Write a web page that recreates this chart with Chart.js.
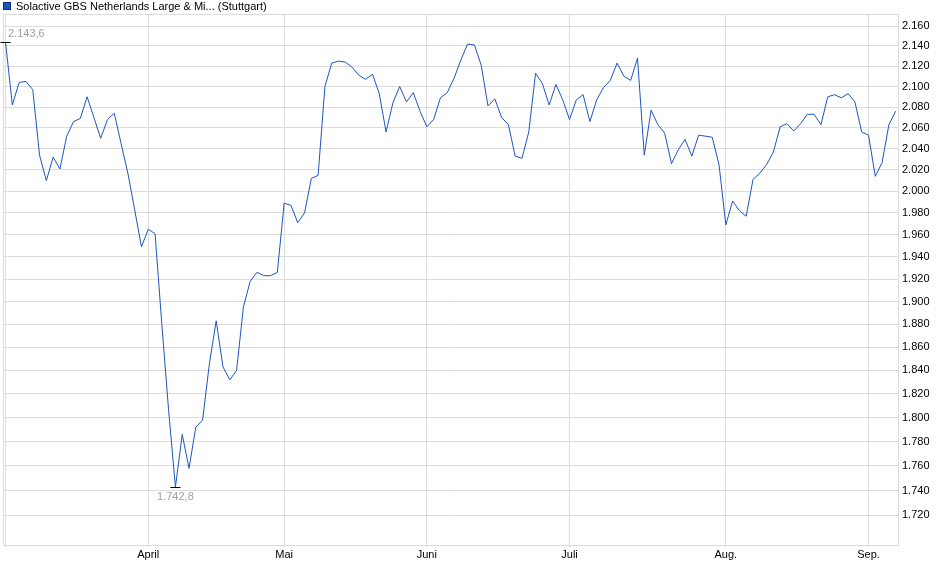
<!DOCTYPE html>
<html>
<head>
<meta charset="utf-8">
<script src="https://cdn.jsdelivr.net/npm/chart.js@4.4.1/dist/chart.umd.min.js"></script>
<style>
  body { margin: 0; background: #fff; font-family: "Liberation Sans", Arial, sans-serif; }
  #wrap { position: relative; width: 940px; height: 579px; }
  #legende { position: absolute; left: 3px; top: 0px; font-size: 11px; color: #000; line-height: 13px; white-space: nowrap; }
  #legende span.box { display: inline-block; width: 6px; height: 6px; background: #1c55c0; border: 1px solid #0d2f75; margin-right: 5px; vertical-align: -0px; }
</style>
</head>
<body>
<div id="wrap">
  <canvas id="grafico"></canvas>
  <div id="legende"><span class="box"></span>Solactive GBS Netherlands Large &amp; Mi... (Stuttgart)</div>
</div>
<script>
// Monatsbeschriftungen (Handelstag-Index des Monatsersten)
const monatsLabels = ['', 'April', 'Mai', 'Juni', 'Juli', 'Aug.', 'Sep.'];
const monatsIndex = [0, 21, 41, 62, 83, 106, 127];

// Y-Achse (logarithmisch), Ticks alle 20 Punkte
const yTicks = [1720, 1740, 1760, 1780, 1800, 1820, 1840, 1860, 1880, 1900, 1920, 1940,
                1960, 1980, 2000, 2020, 2040, 2060, 2080, 2100, 2120, 2140, 2160];

// Schlusskurse je Handelstag
const kurse = [
  2143.6, 2082, 2104, 2105, 2097, 2034, 2010, 2032, 2021, 2052,
  2066, 2069, 2090, 2070, 2050, 2068, 2074, 2045, 2017, 1983,
  1949, 1965, 1961, 1880, 1806, 1742.8, 1786, 1758, 1792, 1798,
  1846, 1883, 1843, 1832, 1840, 1895, 1918, 1926, 1923, 1923,
  1926, 1989, 1987, 1971, 1980, 2012, 2015, 2100, 2123, 2125,
  2124, 2119, 2111, 2107, 2112, 2093, 2056, 2084, 2100, 2085,
  2094, 2076, 2061, 2068, 2089, 2094, 2108, 2126, 2142, 2141,
  2121, 2081, 2088, 2070, 2063, 2033, 2031, 2056, 2113, 2103,
  2082, 2102, 2087, 2068, 2087, 2092, 2066, 2087, 2099, 2106,
  2123, 2110, 2106, 2128, 2034, 2077, 2063, 2055, 2026, 2039,
  2049, 2033, 2053, 2052, 2051, 2025, 1969, 1991, 1982, 1977,
  2011, 2017, 2025, 2037, 2061, 2064, 2057, 2064, 2073, 2073,
  2063, 2090, 2092, 2089, 2093, 2085, 2056, 2053, 2014, 2027,
  2063, 2076
];

function tausender(v) {
  const ganz = Math.floor(v);
  return Math.floor(ganz / 1000) + '.' + String(ganz % 1000).padStart(3, '0');
}
function formatKurs(v) {
  const zehntel = Math.round(v * 10) % 10;
  return tausender(v) + ',' + zehntel;
}

// Rahmen oben/links + Hoch/Tief Markierung
const extremPlugin = {
  id: 'extrem',
  beforeDatasetsDraw(chart) {
    const { ctx, chartArea: a } = chart;
    ctx.save();
    ctx.strokeStyle = '#dcdcdc';
    ctx.lineWidth = 1;
    ctx.beginPath();
    ctx.moveTo(a.left + 0.5, a.bottom);
    ctx.lineTo(a.left + 0.5, a.top + 0.5);
    ctx.lineTo(a.right, a.top + 0.5);
    ctx.stroke();
    ctx.restore();
  },
  afterDatasetsDraw(chart) {
    const { ctx, chartArea: a } = chart;
    const xs = chart.scales.x, ys = chart.scales.y;
    const maxV = Math.max(...kurse), minV = Math.min(...kurse);
    const punkte = [
      { i: kurse.indexOf(maxV), v: maxV, oben: true },
      { i: kurse.indexOf(minV), v: minV, oben: false }
    ];
    ctx.save();
    ctx.font = '11px "Liberation Sans", Arial, sans-serif';
    punkte.forEach(p => {
      const px = xs.getPixelForValue(p.i);
      const py = Math.round(ys.getPixelForValue(p.v)) + 0.5;
      ctx.strokeStyle = '#000';
      ctx.lineWidth = 1;
      ctx.beginPath();
      ctx.moveTo(px - 5, py);
      ctx.lineTo(px + 5, py);
      ctx.stroke();
      const txt = formatKurs(p.v);
      const w = ctx.measureText(txt).width;
      let tx = px - w / 2;
      if (tx < a.left + 5) tx = a.left + 5;
      ctx.fillStyle = '#a0a0a0';
      ctx.textBaseline = 'middle';
      ctx.textAlign = 'left';
      ctx.fillText(txt, tx, p.oben ? py - 9 : py + 9);
    });
    ctx.restore();
  }
};

const ctx = document.getElementById('grafico').getContext('2d');
const grafico = new Chart(ctx, {
  type: 'line',
  data: {
    datasets: [{
      label: 'Solactive GBS Netherlands Large & Mi... (Stuttgart)',
      data: kurse.map((v, i) => ({ x: i, y: v })),
      borderColor: '#1c55c0',
      borderWidth: 1,
      pointRadius: 0,
      tension: 0,
      fill: false
    }]
  },
  options: {
    responsive: true,
    maintainAspectRatio: false,
    animation: false,
    layout: { padding: { top: 14, left: 3, right: 0, bottom: 0 } },
    plugins: { legend: { display: false }, tooltip: { enabled: false } },
    scales: {
      x: {
        type: 'linear',
        min: -0.377,
        max: 131.34,
        afterBuildTicks: s => { s.ticks = monatsIndex.map(v => ({ value: v })); },
        afterFit: s => { s.height = 34; },
        grid: { color: '#dcdcdc', tickLength: 2 },
        border: { color: '#dcdcdc' },
        ticks: {
          autoSkip: false,
          maxRotation: 0,
          padding: 1,
          color: '#000',
          font: { family: '"Liberation Sans", Arial, sans-serif', size: 11 },
          callback: v => monatsLabels[monatsIndex.indexOf(v)] ?? ''
        }
      },
      y: {
        type: 'logarithmic',
        position: 'right',
        min: 1696.4,
        max: 2172.1,
        afterBuildTicks: s => { s.ticks = yTicks.map(v => ({ value: v })); },
        afterFit: s => { s.width = 42; },
        grid: { color: '#dcdcdc', drawTicks: false },
        border: { color: '#dcdcdc' },
        ticks: {
          autoSkip: false,
          padding: 4,
          color: '#000',
          font: { family: '"Liberation Sans", Arial, sans-serif', size: 11 },
          callback: v => tausender(v)
        }
      }
    }
  },
  plugins: [extremPlugin]
});
</script>
</body>
</html>
